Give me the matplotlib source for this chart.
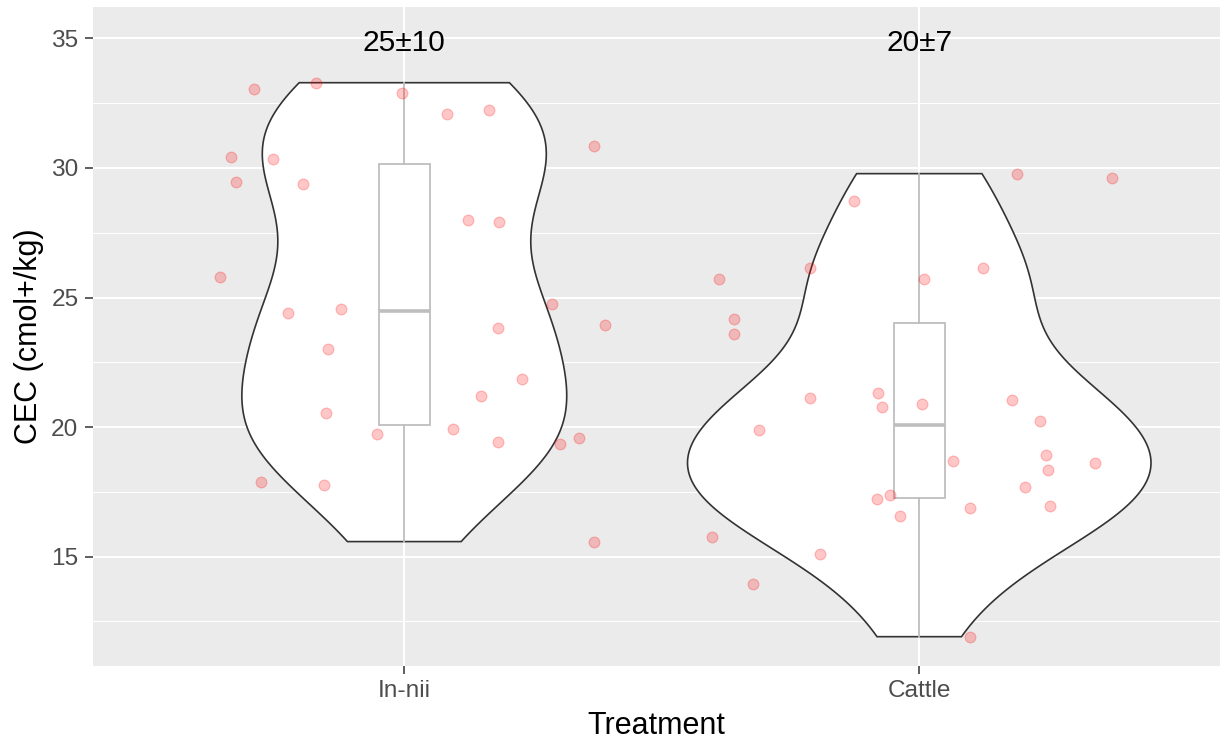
import numpy as np
import matplotlib
matplotlib.use('Agg')
import matplotlib.pyplot as plt

plt.rcParams['font.family'] = ['Liberation Sans', 'DejaVu Sans']

categories = ['In-nii', 'Cattle']
summary_labels = ['25±10', '20±7']
label_y = 35
yticks = [15, 20, 25, 30, 35]
yminor = [12.5, 17.5, 22.5, 27.5, 32.5]

innii_cec = [33.05, 33.29, 32.88, 32.07, 32.24, 30.85, 30.44, 30.36, 29.46, 29.38,
             27.99, 27.92, 25.80, 24.41, 24.57, 24.73, 23.92, 23.83, 23.00, 21.87,
             21.21, 20.56, 19.74, 19.92, 19.42, 19.59, 19.34, 17.87, 17.78, 15.58]
innii_jitter = [-0.291, -0.172, -0.004, 0.082, 0.164, 0.369, -0.337, -0.254, -0.327, -0.197,
                0.123, 0.184, -0.357, -0.226, -0.123, 0.287, 0.389, 0.181, -0.148, 0.229,
                0.148, -0.152, -0.053, 0.095, 0.181, 0.340, 0.303, -0.279, -0.156, 0.369]

cattle_cec = [29.78, 29.63, 28.73, 26.12, 26.12, 25.72, 25.72, 24.16, 23.58, 21.14,
              21.31, 20.76, 20.89, 21.06, 19.90, 20.24, 18.68, 18.93, 18.36, 18.60,
              17.70, 17.38, 17.23, 16.89, 16.97, 16.57, 15.75, 15.09, 13.96, 11.91]
cattle_jitter = [0.189, 0.374, -0.127, -0.212, 0.123, -0.389, 0.009, -0.360, -0.360, -0.212,
                 -0.081, -0.073, 0.005, 0.181, -0.311, 0.234, 0.066, 0.247, 0.250, 0.341,
                 0.206, -0.057, -0.082, 0.099, 0.254, -0.037, -0.402, -0.192, -0.323, 0.099]

groups = [np.array(innii_cec), np.array(cattle_cec)]
jitters = [np.array(innii_jitter), np.array(cattle_jitter)]


def kde(y, n_grid=512):
    n = len(y)
    q75, q25 = np.percentile(y, [75, 25])
    bw = 0.9 * min(np.std(y, ddof=1), (q75 - q25) / 1.34) * n ** -0.2
    grid = np.linspace(y.min(), y.max(), n_grid)
    d = np.exp(-0.5 * ((grid[:, None] - y[None, :]) / bw) ** 2).sum(1) / (n * bw * np.sqrt(2 * np.pi))
    return grid, d


fig = plt.figure(figsize=(12.2, 7.44), dpi=100)
ax = fig.add_axes([93 / 1220, 1 - 665.7 / 744, (1220 - 93) / 1220, (665.7 - 7.3) / 744])
ax.set_facecolor('#EBEBEB')
for s in ax.spines.values():
    s.set_visible(False)

positions = [1, 2]
dens = [kde(g) for g in groups]
dmax = max(d.max() for _, d in dens)
for pos, (grid, d) in zip(positions, dens):
    w = 0.45 * d / dmax
    xs = np.concatenate([pos - w, (pos + w)[::-1]])
    ys = np.concatenate([grid, grid[::-1]])
    ax.fill(xs, ys, facecolor='white', edgecolor='#333333', lw=1.2, zorder=2, closed=True)

ax.boxplot(groups, positions=positions, widths=0.1, whis=1.5, patch_artist=True,
           manage_ticks=False, showfliers=False,
           boxprops=dict(facecolor='white', edgecolor='#BEBEBE', lw=1.3),
           whiskerprops=dict(color='#BEBEBE', lw=1.3),
           capprops=dict(lw=0),
           medianprops=dict(color='#BEBEBE', lw=2.6),
           zorder=3)

for pos, g, j in zip(positions, groups, jitters):
    ax.scatter(pos + j, g, s=60, facecolor=(1, 0, 0, 0.22), edgecolor=(1, 0, 0, 0.22),
               lw=0.9, zorder=4)

for pos, lab in zip(positions, summary_labels):
    ax.annotate(lab, (pos, label_y), xytext=(0, -3), textcoords='offset points',
                ha='center', va='center', fontsize=21.5, color='black', zorder=5)

ax.set_xlim(0.3955, 2.584)
ax.set_ylim(10.79, 36.2)
ax.set_xticks(positions)
ax.set_xticklabels(categories)
ax.set_yticks(yticks)
ax.set_yticks(yminor, minor=True)
ax.grid(which='major', color='white', lw=1.5, zorder=0)
ax.grid(which='minor', axis='y', color='white', lw=0.75, zorder=0)
ax.set_axisbelow(True)
ax.tick_params(which='major', length=5.5, width=1.1, color='#333333', labelcolor='#4D4D4D',
               labelsize=17.6, pad=5)
ax.tick_params(which='minor', length=0)

ax.set_xlabel('Treatment', fontsize=22, color='black', labelpad=6)
ax.set_ylabel('CEC (cmol+/kg)', fontsize=22, color='black', labelpad=5)

fig.savefig('out.png', dpi=100)
